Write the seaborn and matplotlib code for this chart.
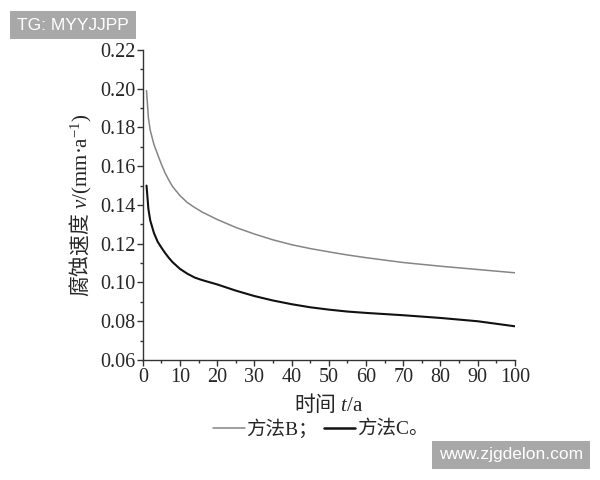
import pandas as pd
import matplotlib
matplotlib.use("Agg")
import matplotlib.pyplot as plt
import seaborn as sns
from matplotlib.ticker import MultipleLocator
from matplotlib.lines import Line2D

# === 数据：从图中读取 ===
t_vals = [1, 1.5, 2, 3, 4, 5, 6, 7, 8, 10, 12, 14, 16, 20, 25, 30, 35, 40, 45, 50, 55, 60, 70, 80, 90, 100]
v_b = [0.199, 0.185, 0.1785, 0.1712, 0.166, 0.161, 0.1565, 0.1528, 0.1495, 0.1448, 0.1412, 0.1386, 0.1363,
       0.1325, 0.1284, 0.1250, 0.1220, 0.1195, 0.1175, 0.1158, 0.1142, 0.1128, 0.1103, 0.1084, 0.1067, 0.1050]
v_c = [0.150, 0.138, 0.132, 0.1255, 0.1210, 0.1180, 0.1152, 0.1127, 0.1105, 0.1070, 0.1045, 0.1025, 0.1012,
       0.0990, 0.0958, 0.0930, 0.0907, 0.0888, 0.0872, 0.0860, 0.0850, 0.0843, 0.0831, 0.0817, 0.0800, 0.0774]
series_names = ["方法B；", "方法C。"]
x_ticks = [0, 10, 20, 30, 40, 50, 60, 70, 80, 90, 100]
y_ticks = [0.06, 0.08, 0.10, 0.12, 0.14, 0.16, 0.18, 0.20, 0.22]

df = pd.DataFrame({
    "t": t_vals + t_vals,
    "v": v_b + v_c,
    "method": [series_names[0]] * len(t_vals) + [series_names[1]] * len(t_vals),
})

sns.set_style("ticks")
plt.rcParams['font.family'] = ['Liberation Serif', 'Noto Sans CJK SC', 'DejaVu Sans']
plt.rcParams['mathtext.fontset'] = 'custom'
plt.rcParams['mathtext.rm'] = 'Liberation Serif'
plt.rcParams['mathtext.it'] = 'Liberation Serif:italic'
plt.rcParams['mathtext.sf'] = 'Noto Sans CJK SC:bold'   # 用 sf 槽位放中文
plt.rcParams['axes.unicode_minus'] = False

fig = plt.figure(figsize=(6, 4.8), dpi=100)
ax = fig.add_axes([0.238, 0.25, 0.62, 0.646])

sns.lineplot(data=df, x="t", y="v", hue="method", size="method",
             palette={series_names[0]: "#858585", series_names[1]: "#111111"},
             sizes={series_names[0]: 1.1, series_names[1]: 1.5},
             ax=ax, legend=False)

ax.set_xlim(0, 100)
ax.set_ylim(0.06, 0.22)
ax.set_xticks(x_ticks)
ax.set_yticks(y_ticks)
ax.set_yticklabels([f"{y:.2f}" for y in y_ticks])
ax.xaxis.set_minor_locator(MultipleLocator(5))
ax.yaxis.set_minor_locator(MultipleLocator(0.01))
ax.tick_params(which="major", direction="out", length=4.5, width=1, labelsize=14.5, pad=1, color="#333333")
ax.tick_params(which="minor", direction="out", length=2.5, width=1, color="#333333")
for s in ["top", "right"]:
    ax.spines[s].set_visible(False)
for s in ["left", "bottom"]:
    ax.spines[s].set_color("#333333")
    ax.spines[s].set_linewidth(1)

ax.set_xlabel("$\\mathsf{时间}$ $\\mathit{t}$/a", fontsize=15, labelpad=4)
ax.set_ylabel("$\\mathsf{腐蚀速度}$ $\\mathit{v}$/(mm·a$^{-1}$)", fontsize=15, labelpad=4)

# 图例
handles = [Line2D([], [], color="#858585", lw=1.1), Line2D([], [], color="#111111", lw=1.8)]
fig.legend(handles, series_names, loc="center", bbox_to_anchor=(0.535, 1 - 429 / 480),
           ncol=2, frameon=False, fontsize=14, handlelength=1.6, handletextpad=0.1,
           columnspacing=0.3, borderpad=0)

# 水印
fig.text(17 / 600, 1 - 25 / 480, "TG: MYYJJPP", color="white", fontsize=12.5, va="center",
         family="Liberation Sans",
         bbox=dict(boxstyle="square,pad=0.4", fc="#a8a8a8", ec="none"))
fig.text(439 / 600, 1 - 455 / 480, "www.zjgdelon.com", color="white", fontsize=12.5, va="center",
         family="Liberation Sans",
         bbox=dict(boxstyle="square,pad=0.4", fc="#a8a8a8", ec="none"))

fig.savefig("out.png", dpi=100)
